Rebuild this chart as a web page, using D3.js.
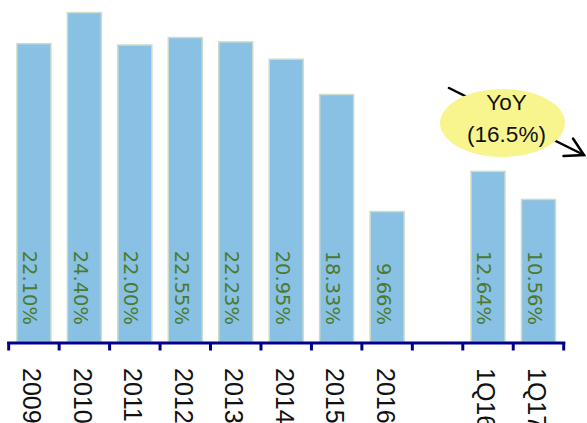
<!DOCTYPE html>
<html>
<head>
<meta charset="utf-8">
<script src="https://cdn.jsdelivr.net/npm/d3@7/dist/d3.min.js"></script>
<style>
  html, body { margin: 0; padding: 0; background: #ffffff; }
  svg { display: block; }
</style>
</head>
<body>
<svg id="chart" width="587" height="423"></svg>
<script>
// ---- data ----
const categories = ["2009", "2010", "2011", "2012", "2013", "2014", "2015", "2016", " ", "1Q16", "1Q17"];
const values = [22.10, 24.40, 22.00, 22.55, 22.23, 20.95, 18.33, 9.66, null, 12.64, 10.56];
const valueLabels = ["22.10%", "24.40%", "22.00%", "22.55%", "22.23%", "20.95%", "18.33%", "9.66%", "", "12.64%", "10.56%"];
const calloutLines = ["YoY", "(16.5%)"];

// ---- layout ----
const svg = d3.select("#chart");
const x0 = 8.7, x1 = 563.7, baseY = 342;
const pad = 0.326;
const x = d3.scaleBand().domain(categories).range([x0, x1]).paddingInner(pad).paddingOuter(pad / 2);
const y = d3.scaleLinear().domain([0, 25]).range([baseY, baseY - 25 * 13.5]);

const rows = categories.map((c, i) => ({ cat: c, v: values[i], label: valueLabels[i] }));

// bars
svg.append("g").selectAll("rect")
  .data(rows.filter(d => d.v != null))
  .join("rect")
  .attr("x", d => x(d.cat))
  .attr("y", d => y(d.v))
  .attr("width", x.bandwidth())
  .attr("height", d => y(0) - y(d.v))
  .attr("fill", "#89c1e4")
  .attr("stroke", "#cddcc8")
  .attr("stroke-width", 1.5);

// value labels (rotated)
svg.append("g").selectAll("text")
  .data(rows.filter(d => d.v != null))
  .join("text")
  .attr("transform", d => `translate(${x(d.cat) + x.bandwidth() / 2 - 10.6},${baseY - 17}) rotate(90)`)
  .attr("text-anchor", "end")
  .attr("font-family", "DejaVu Sans, Verdana, sans-serif")
  .attr("font-size", 19.5)
  .attr("fill", "#4c7a30")
  .text(d => d.label);

// axis line + ticks
const step = x.step();
const boundaries = categories.map(c => x(c) - step * pad / 2).concat([x1]);
const axisG = svg.append("g");
axisG.append("line")
  .attr("x1", x0 - 1.5).attr("x2", x1 + 1.5)
  .attr("y1", baseY + 1).attr("y2", baseY + 1)
  .attr("stroke", "#000088").attr("stroke-width", 3);
axisG.selectAll("line.tick")
  .data(boundaries)
  .join("line")
  .attr("class", "tick")
  .attr("x1", d => d).attr("x2", d => d)
  .attr("y1", baseY).attr("y2", baseY + 8.5)
  .attr("stroke", "#000088").attr("stroke-width", 3);

// category labels (rotated)
svg.append("g").selectAll("text")
  .data(rows.filter(d => d.cat.trim() !== ""))
  .join("text")
  .attr("transform", d => `translate(${x(d.cat) + x.bandwidth() / 2 - 10.6},${368}) rotate(90)`)
  .attr("text-anchor", "start")
  .attr("font-family", "Liberation Sans, Arial, sans-serif")
  .attr("font-size", 25)
  .attr("fill", "#111111")
  .text(d => d.cat);

// callout arrow
const arrow = svg.append("g").attr("stroke", "#000").attr("stroke-width", 2.5).attr("fill", "none").attr("stroke-linecap", "round");
arrow.append("line").attr("x1", 449).attr("y1", 88).attr("x2", 584).attr("y2", 155);
arrow.append("polyline").attr("points", "573,138.5 584,155 563.5,156");

// callout ellipse
svg.append("ellipse")
  .attr("cx", 502.5).attr("cy", 123)
  .attr("rx", 62.5).attr("ry", 34)
  .attr("fill", "#f8f58e");

svg.append("g").selectAll("text")
  .data(calloutLines)
  .join("text")
  .attr("x", 506.5)
  .attr("y", (d, i) => 110 + i * 31.5)
  .attr("text-anchor", "middle")
  .attr("font-family", "Liberation Sans, Arial, sans-serif")
  .attr("font-size", 22.5)
  .attr("fill", "#111111")
  .text(d => d);
</script>
</body>
</html>
